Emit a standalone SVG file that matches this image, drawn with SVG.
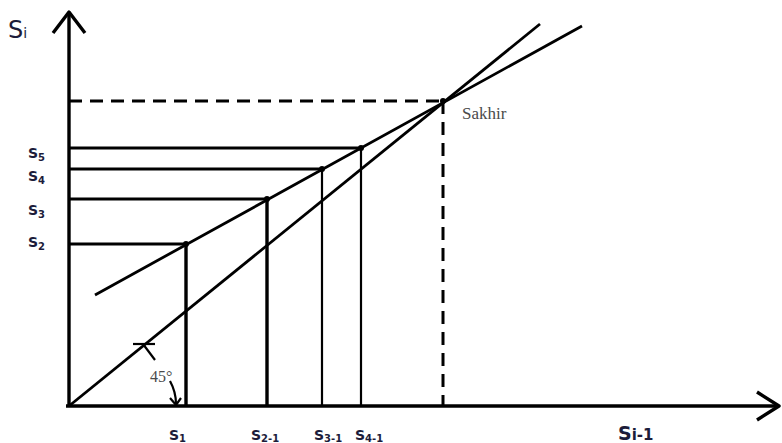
<svg xmlns="http://www.w3.org/2000/svg" width="782" height="443" viewBox="0 0 782 443">
<style>
.ln{stroke:#000;fill:none;stroke-linecap:butt}
.ax{stroke-width:3.4}
.th{stroke-width:2.8}
.tn{stroke-width:2.2}
.ds{stroke-width:3;stroke-dasharray:13 8}
.lb{font-family:Verdana,"DejaVu Sans",sans-serif;font-weight:bold;fill:#1c1c3a;font-size:14px}
.sb{font-size:10px}
.sr{font-family:"Liberation Serif",serif;fill:#4a4a4a}
</style>
<rect width="782" height="443" fill="#fff"/>
<g id="connectors">
<path class="ln th" d="M69 406 L540 24"/>
<path class="ln th" d="M95 295 L582 26"/>
<path class="ln th" d="M69 244 H186 M69 199 H267 M69 169 H322 M69 148 H361"/>
<path class="ln ds" d="M69 101 H443"/>
<path class="ln ax" d="M186 244 V406 M267 199 V406"/>
<path class="ln tn" d="M322 169 V406 M361 148 V406"/>
<path class="ln ds" d="M443 101 V406"/>
<path class="ln tn" d="M133 344 H155"/>
<path class="ln tn" d="M143 344 L155 360"/>
<path class="ln tn" d="M170 381 Q176 392 176 404"/>
<path class="ln tn" d="M170 398 L176 405 L181 398"/>
</g>
<g id="axes">
<path class="ln ax" d="M69 406 V12"/>
<path class="ln ax" d="M53 33 L69 12 L85 33" stroke-linejoin="round"/>
<path class="ln ax" d="M66 406 H779"/>
<path class="ln ax" d="M757 392 L779 406 L757 420" stroke-linejoin="round"/>
</g>
<g id="points" fill="#000">
<circle cx="186" cy="244" r="3"/>
<circle cx="267" cy="199" r="3"/>
<circle cx="322" cy="169" r="3"/>
<circle cx="361" cy="148" r="3"/>
<circle cx="443" cy="101" r="3"/>
</g>
<g id="labels">
<text x="8" y="38" style="fill:#1c1c3a;font-size:24px;font-family:Verdana,'DejaVu Sans',sans-serif">S<tspan style="font-size:14px">i</tspan></text>
<text class="lb" x="28" y="158">S<tspan class="sb" dy="3">5</tspan></text>
<text class="lb" x="28" y="181">S<tspan class="sb" dy="3">4</tspan></text>
<text class="lb" x="28" y="215">S<tspan class="sb" dy="3">3</tspan></text>
<text class="lb" x="28" y="247">S<tspan class="sb" dy="3">2</tspan></text>
<text class="lb" x="169" y="440">S<tspan class="sb" dy="2">1</tspan></text>
<text class="lb" x="251" y="440">S<tspan class="sb" dy="2">2-1</tspan></text>
<text class="lb" x="314" y="440">S<tspan class="sb" dy="2">3-1</tspan></text>
<text class="lb" x="355" y="440">S<tspan class="sb" dy="2">4-1</tspan></text>
<text class="lb" x="618" y="440" style="font-size:19px">S<tspan style="font-size:15px">i-1</tspan></text>
<text class="sr" x="462" y="119" font-size="17">Sakhir</text>
<text class="sr" x="150" y="382" font-size="16">45°</text>
</g>
</svg>
